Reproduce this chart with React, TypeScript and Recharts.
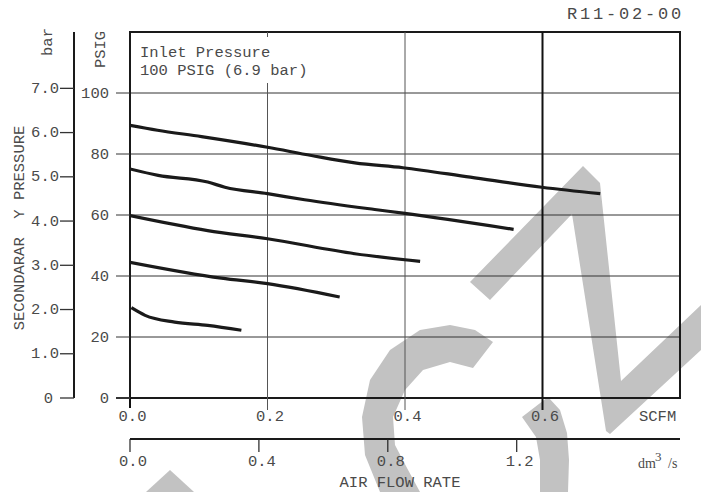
import React from 'react';
import { LineChart, Line, XAxis, YAxis, CartesianGrid, ReferenceArea, ReferenceLine } from 'recharts';

// ---- data ----
const scfmTicks = [0, 0.2, 0.4, 0.6];
const dmTicks = [0, 0.4, 0.8, 1.2];
const psigTicks = [0, 20, 40, 60, 80, 100];
const barTicks = [0, 1, 2, 3, 4, 5, 6, 7];
const barTickLabels = ['0', '1.0', '2.0', '3.0', '4.0', '5.0', '6.0', '7.0'];
const gridX = [0.2, 0.4, 0.6];
const PSI_PER_BAR = 14.5038;
const scfmDomain: [number, number] = [0, 0.8];
const psigDomain: [number, number] = [0, 120];
const barDomain: [number, number] = [0, 120 / PSI_PER_BAR];
const dmDomain: [number, number] = [0, 1.7067];

const curve1 = [
  { x: 0, p: 89.4 }, { x: 0.04, p: 87.8 }, { x: 0.104, p: 85.7 }, { x: 0.2, p: 82.2 },
  { x: 0.264, p: 79.5 }, { x: 0.327, p: 77.1 }, { x: 0.397, p: 75.5 }, { x: 0.495, p: 72.4 },
  { x: 0.599, p: 69.1 }, { x: 0.684, p: 67.0 },
];
const curve2 = [
  { x: 0, p: 75.1 }, { x: 0.041, p: 73.0 }, { x: 0.113, p: 70.8 }, { x: 0.138, p: 69.1 },
  { x: 0.2, p: 67.0 }, { x: 0.254, p: 65.0 }, { x: 0.356, p: 61.8 }, { x: 0.397, p: 60.6 },
  { x: 0.558, p: 55.3 },
];
const curve3 = [
  { x: 0, p: 59.8 }, { x: 0.113, p: 54.9 }, { x: 0.2, p: 52.2 }, { x: 0.327, p: 47.3 },
  { x: 0.422, p: 44.8 },
];
const curve4 = [
  { x: 0, p: 44.5 }, { x: 0.133, p: 39.3 }, { x: 0.2, p: 37.5 }, { x: 0.305, p: 33.1 },
];
const curve5 = [
  { x: 0.002, p: 29.6 }, { x: 0.022, p: 27.1 }, { x: 0.065, p: 24.9 }, { x: 0.113, p: 23.8 },
  { x: 0.162, p: 22.2 },
];
const curves = [curve1, curve2, curve3, curve4, curve5];

// axis ids (Recharts stacks same-side axes by id order: first id sits next to the plot)
const X_SCFM = 'a_scfm';
const X_DM = 'b_dm';
const Y_PSIG = 'a_psig';
const Y_BAR = 'b_bar';

const FONT = "'Liberation Mono', 'Courier New', monospace";
const TXT = '#4a4a4a';

const ScfmTick = (props: any) => {
  const { x, y, payload } = props;
  const v = payload.value;
  const thick = v === 0 || v === 0.6;
  return (
    <g>
      <line x1={x} x2={x} y1={y} y2={y + (v === 0 ? 10 : 12)} stroke={thick ? '#111' : '#555'} strokeWidth={thick ? 2 : 1} />
      <text x={x + 2.5} y={y + 23} textAnchor="middle" fill={TXT} fontSize={15.5} fontFamily={FONT}>{v.toFixed(1)}</text>
    </g>
  );
};

const DmTick = (props: any) => {
  const { x, y, payload } = props;
  const v = payload.value;
  return (
    <g>
      <line x1={x} x2={x} y1={y} y2={y + 13} stroke="#222" strokeWidth={1.2} />
      <text x={x + 3} y={y + 27} textAnchor="middle" fill={TXT} fontSize={15.5} fontFamily={FONT}>{v.toFixed(1)}</text>
    </g>
  );
};

const PsigTick = (props: any) => {
  const { x, y, payload } = props;
  return (
    <g>
      <line x1={x - 14} x2={x} y1={y} y2={y} stroke="#333" strokeWidth={payload.value === 0 ? 2 : 1} />
      <text x={x - 21} y={y + 4.5} textAnchor="end" fill={TXT} fontSize={15.5} fontFamily={FONT}>{String(payload.value)}</text>
    </g>
  );
};

const BarTick = (props: any) => {
  const { x, y, payload, index } = props;
  const label = barTickLabels[index] ?? String(payload.value);
  return (
    <g>
      <line x1={x - 14} x2={x} y1={y} y2={y} stroke="#333" strokeWidth={1.3} />
      <text x={payload.value === 0 ? x - 21 : x - 15} y={y + 4.5} textAnchor="end" fill={TXT} fontSize={15.5} fontFamily={FONT}>{label}</text>
    </g>
  );
};

const Watermark = () => (
  <svg width={701} height={492} style={{ position: 'absolute', left: 0, top: 0 }}>
    <g fill="#c2c2c2" stroke="none">
      <polygon points="170,470 146,492 194,492" />
      <polygon points="470,282 583,166 600,183 621,381 701,305 701,350 610,434 606,431 572,214 490,300" />
      <polygon points="493,342 475,330 450,325 420,330 390,350 370,380 362,417 365,455 380,492 420,492 407,468 395,445 393,417 405,390 423,370 450,362 473,368" />
      <polygon points="548,397 560,410 567,433 569,460 568,492 540,492 540,460 536,437 522,417" />
    </g>
  </svg>
);

const Overlay = () => (
  <svg width={701} height={492} style={{ position: 'absolute', left: 0, top: 0, pointerEvents: 'none' }}>
    <defs>
      <clipPath id="clipRight"><rect x={0} y={0} width={686} height={492} /></clipPath>
    </defs>
    <g fill={TXT} fontFamily={FONT} fontSize={15.5}>
      <text x={567} y={18.5} fontSize={17} letterSpacing={2.8}>R11-02-00</text>
      <text transform="translate(52,42) rotate(-90)" textAnchor="middle">bar</text>
      <text transform="translate(105,49.5) rotate(-90)" textAnchor="middle">PSIG</text>
      <text transform="translate(24,228) rotate(-90)" textAnchor="middle" style={{ whiteSpace: 'pre' }}>SECONDARAR  Y PRESSURE</text>
      <rect x={134} y={37} width={182} height={46} fill="#fff" />
      <text x={140} y={56.5}>Inlet Pressure</text>
      <text x={140} y={75}>100 PSIG (6.9 bar)</text>
      <text x={639} y={421}>SCFM</text>
      <text x={400} y={487} textAnchor="middle">AIR FLOW RATE</text>
      <g clipPath="url(#clipRight)" fontFamily="'Liberation Serif', serif">
        <text x={638} y={468} fontSize={14}>dm</text>
        <text x={655} y={461} fontSize={13}>3</text>
        <text x={668} y={468} fontSize={14}>/s</text>
      </g>
    </g>
  </svg>
);

export default function App() {
  return (
    <div style={{ position: 'absolute', left: 0, top: 0, width: 701, height: 492, background: '#fff', overflow: 'hidden' }}>
      <Watermark />
      <div style={{ position: 'absolute', left: 0, top: 0 }}>
        <LineChart width={701} height={492} margin={{ top: 32, right: 21, bottom: 0, left: 0 }}>
          <XAxis xAxisId={X_SCFM} type="number" dataKey="x" domain={scfmDomain} allowDataOverflow ticks={scfmTicks}
            interval={0} height={41} tickSize={0} tickMargin={0} axisLine={false} tickLine={false} tick={<ScfmTick />} />
          <XAxis xAxisId={X_DM} type="number" dataKey="x" domain={dmDomain} allowDataOverflow ticks={dmTicks}
            interval={0} height={53} tickSize={0} tickMargin={0} axisLine={{ stroke: '#1a1a1a', strokeWidth: 2 }} tickLine={false} tick={<DmTick />} />
          <YAxis yAxisId={Y_PSIG} type="number" domain={psigDomain} allowDataOverflow ticks={psigTicks}
            interval={0} width={56} tickSize={0} tickMargin={0} axisLine={false} tickLine={false} tick={<PsigTick />} />
          <YAxis yAxisId={Y_BAR} type="number" domain={barDomain} allowDataOverflow ticks={barTicks}
            interval={0} width={74} tickSize={0} tickMargin={0} axisLine={{ stroke: '#1a1a1a', strokeWidth: 2 }} tickLine={false} tick={<BarTick />} />
          <CartesianGrid xAxisId={X_SCFM} yAxisId={Y_PSIG} vertical={false} stroke="#333" strokeWidth={1} />
          {gridX.map((gx) => (
            <ReferenceLine key={gx} xAxisId={X_SCFM} yAxisId={Y_PSIG} x={gx}
              stroke={gx === 0.6 ? '#111' : '#555'} strokeWidth={gx === 0.6 ? 2 : 1} />
          ))}
          <ReferenceArea xAxisId={X_SCFM} yAxisId={Y_PSIG} x1={scfmDomain[0]} x2={scfmDomain[1]} y1={psigDomain[0]} y2={psigDomain[1]}
            fill="none" fillOpacity={0} stroke="#1a1a1a" strokeWidth={2} />
          {curves.map((c, i) => (
            <Line key={i} data={c} dataKey="p" xAxisId={X_SCFM} yAxisId={Y_PSIG} type="monotone"
              stroke="#1a1a1a" strokeWidth={3.2} dot={false} activeDot={false} isAnimationActive={false} />
          ))}
        </LineChart>
      </div>
      <Overlay />
    </div>
  );
}
